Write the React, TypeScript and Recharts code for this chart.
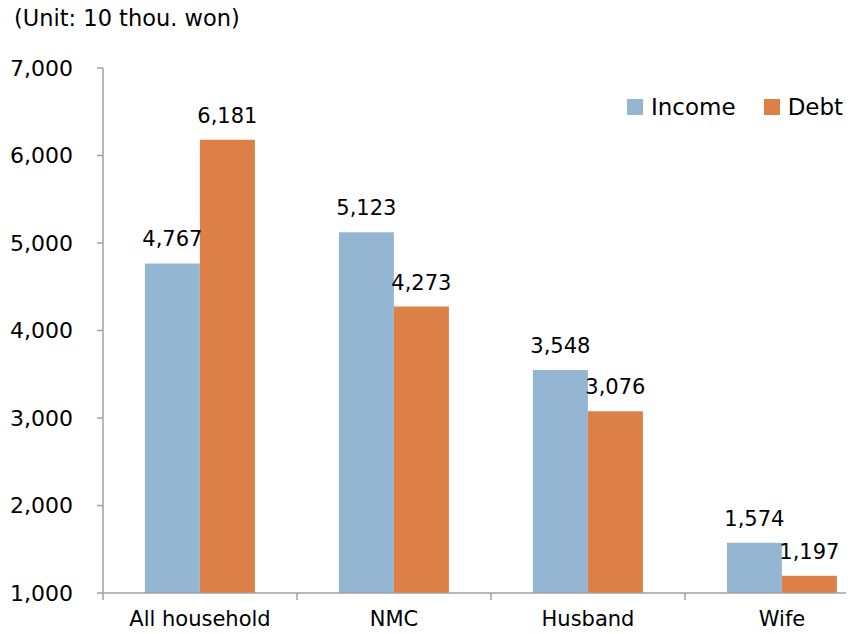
import { Bar, BarChart, LabelList, XAxis, YAxis } from "recharts";

const categories = ["All household", "NMC", "Husband", "Wife"];
const income = [4767, 5123, 3548, 1574];
const debt = [6181, 4273, 3076, 1197];
const yTicks = [1000, 2000, 3000, 4000, 5000, 6000, 7000];
const seriesNames = ["Income", "Debt"];

const data = categories.map((name, i) => ({ name, income: income[i], debt: debt[i] }));

const FONT = "'DejaVu Sans', sans-serif";
const BLUE = "#95B6D3";
const ORANGE = "#DD8047";
const AXIS = "#A0A0A0";
const colors = [BLUE, ORANGE];
const fmt = (v: number) => v.toLocaleString("en-US");

function CatTick(props: any) {
  const { x, y, payload, index } = props;
  const off = payload.offset ?? 0;
  return (
    <g>
      <line x1={x - off} x2={x - off} y1={y - 8} y2={y - 1} stroke={AXIS} strokeWidth={1.5} />
      {index === categories.length - 1 && (
        <line x1={x + off} x2={x + off} y1={y - 8} y2={y - 1} stroke={AXIS} strokeWidth={1.5} />
      )}
      <text x={x} y={y + 25} textAnchor="middle" fontSize={21} fontFamily={FONT} fill="#000">
        {payload.value}
      </text>
    </g>
  );
}

export default function App() {
  return (
    <div style={{ margin: -8, width: 854, height: 634, overflow: "hidden", position: "relative", background: "#fff" }}>
      <div style={{ position: "absolute", left: 14, top: 5, fontFamily: FONT, fontSize: 22.5 }}>
        (Unit: 10 thou. won)
      </div>
      <div
        style={{
          position: "absolute",
          left: 627,
          top: 94,
          display: "flex",
          alignItems: "center",
          fontFamily: FONT,
          fontSize: 23,
          zIndex: 2,
        }}
      >
        {seriesNames.map((n, i) => (
          <div key={n} style={{ display: "flex", alignItems: "center", marginRight: 28 }}>
            <span style={{ width: 16, height: 16, background: colors[i], marginRight: 8, display: "inline-block" }} />
            <span>{n}</span>
          </div>
        ))}
      </div>
      <BarChart
        width={880}
        height={634}
        data={data}
        margin={{ top: 68, right: 1, bottom: 0, left: 0 }}
        barCategoryGap="21.6%"
        barGap={0}
      >
        <XAxis
          dataKey="name"
          height={41}
          tickLine={false}
          axisLine={{ stroke: AXIS, strokeWidth: 1.5 }}
          tick={<CatTick />}
          interval={0}
        />
        <YAxis
          width={103}
          domain={[1000, 7000]}
          ticks={yTicks}
          allowDataOverflow
          tickFormatter={fmt}
          tickSize={6}
          tickMargin={24}
          tickLine={{ stroke: AXIS, strokeWidth: 1.5 }}
          axisLine={{ stroke: AXIS, strokeWidth: 1.5 }}
          tick={{ fontSize: 22, fontFamily: FONT, fill: "#000" }}
        />
        <Bar dataKey="income" name={seriesNames[0]} fill={BLUE} isAnimationActive={false}>
          <LabelList dataKey="income" position="top" offset={17} formatter={fmt} fontSize={21} fontFamily={FONT} fill="#000" />
        </Bar>
        <Bar dataKey="debt" name={seriesNames[1]} fill={ORANGE} isAnimationActive={false}>
          <LabelList dataKey="debt" position="top" offset={17} formatter={fmt} fontSize={21} fontFamily={FONT} fill="#000" />
        </Bar>
      </BarChart>
    </div>
  );
}
